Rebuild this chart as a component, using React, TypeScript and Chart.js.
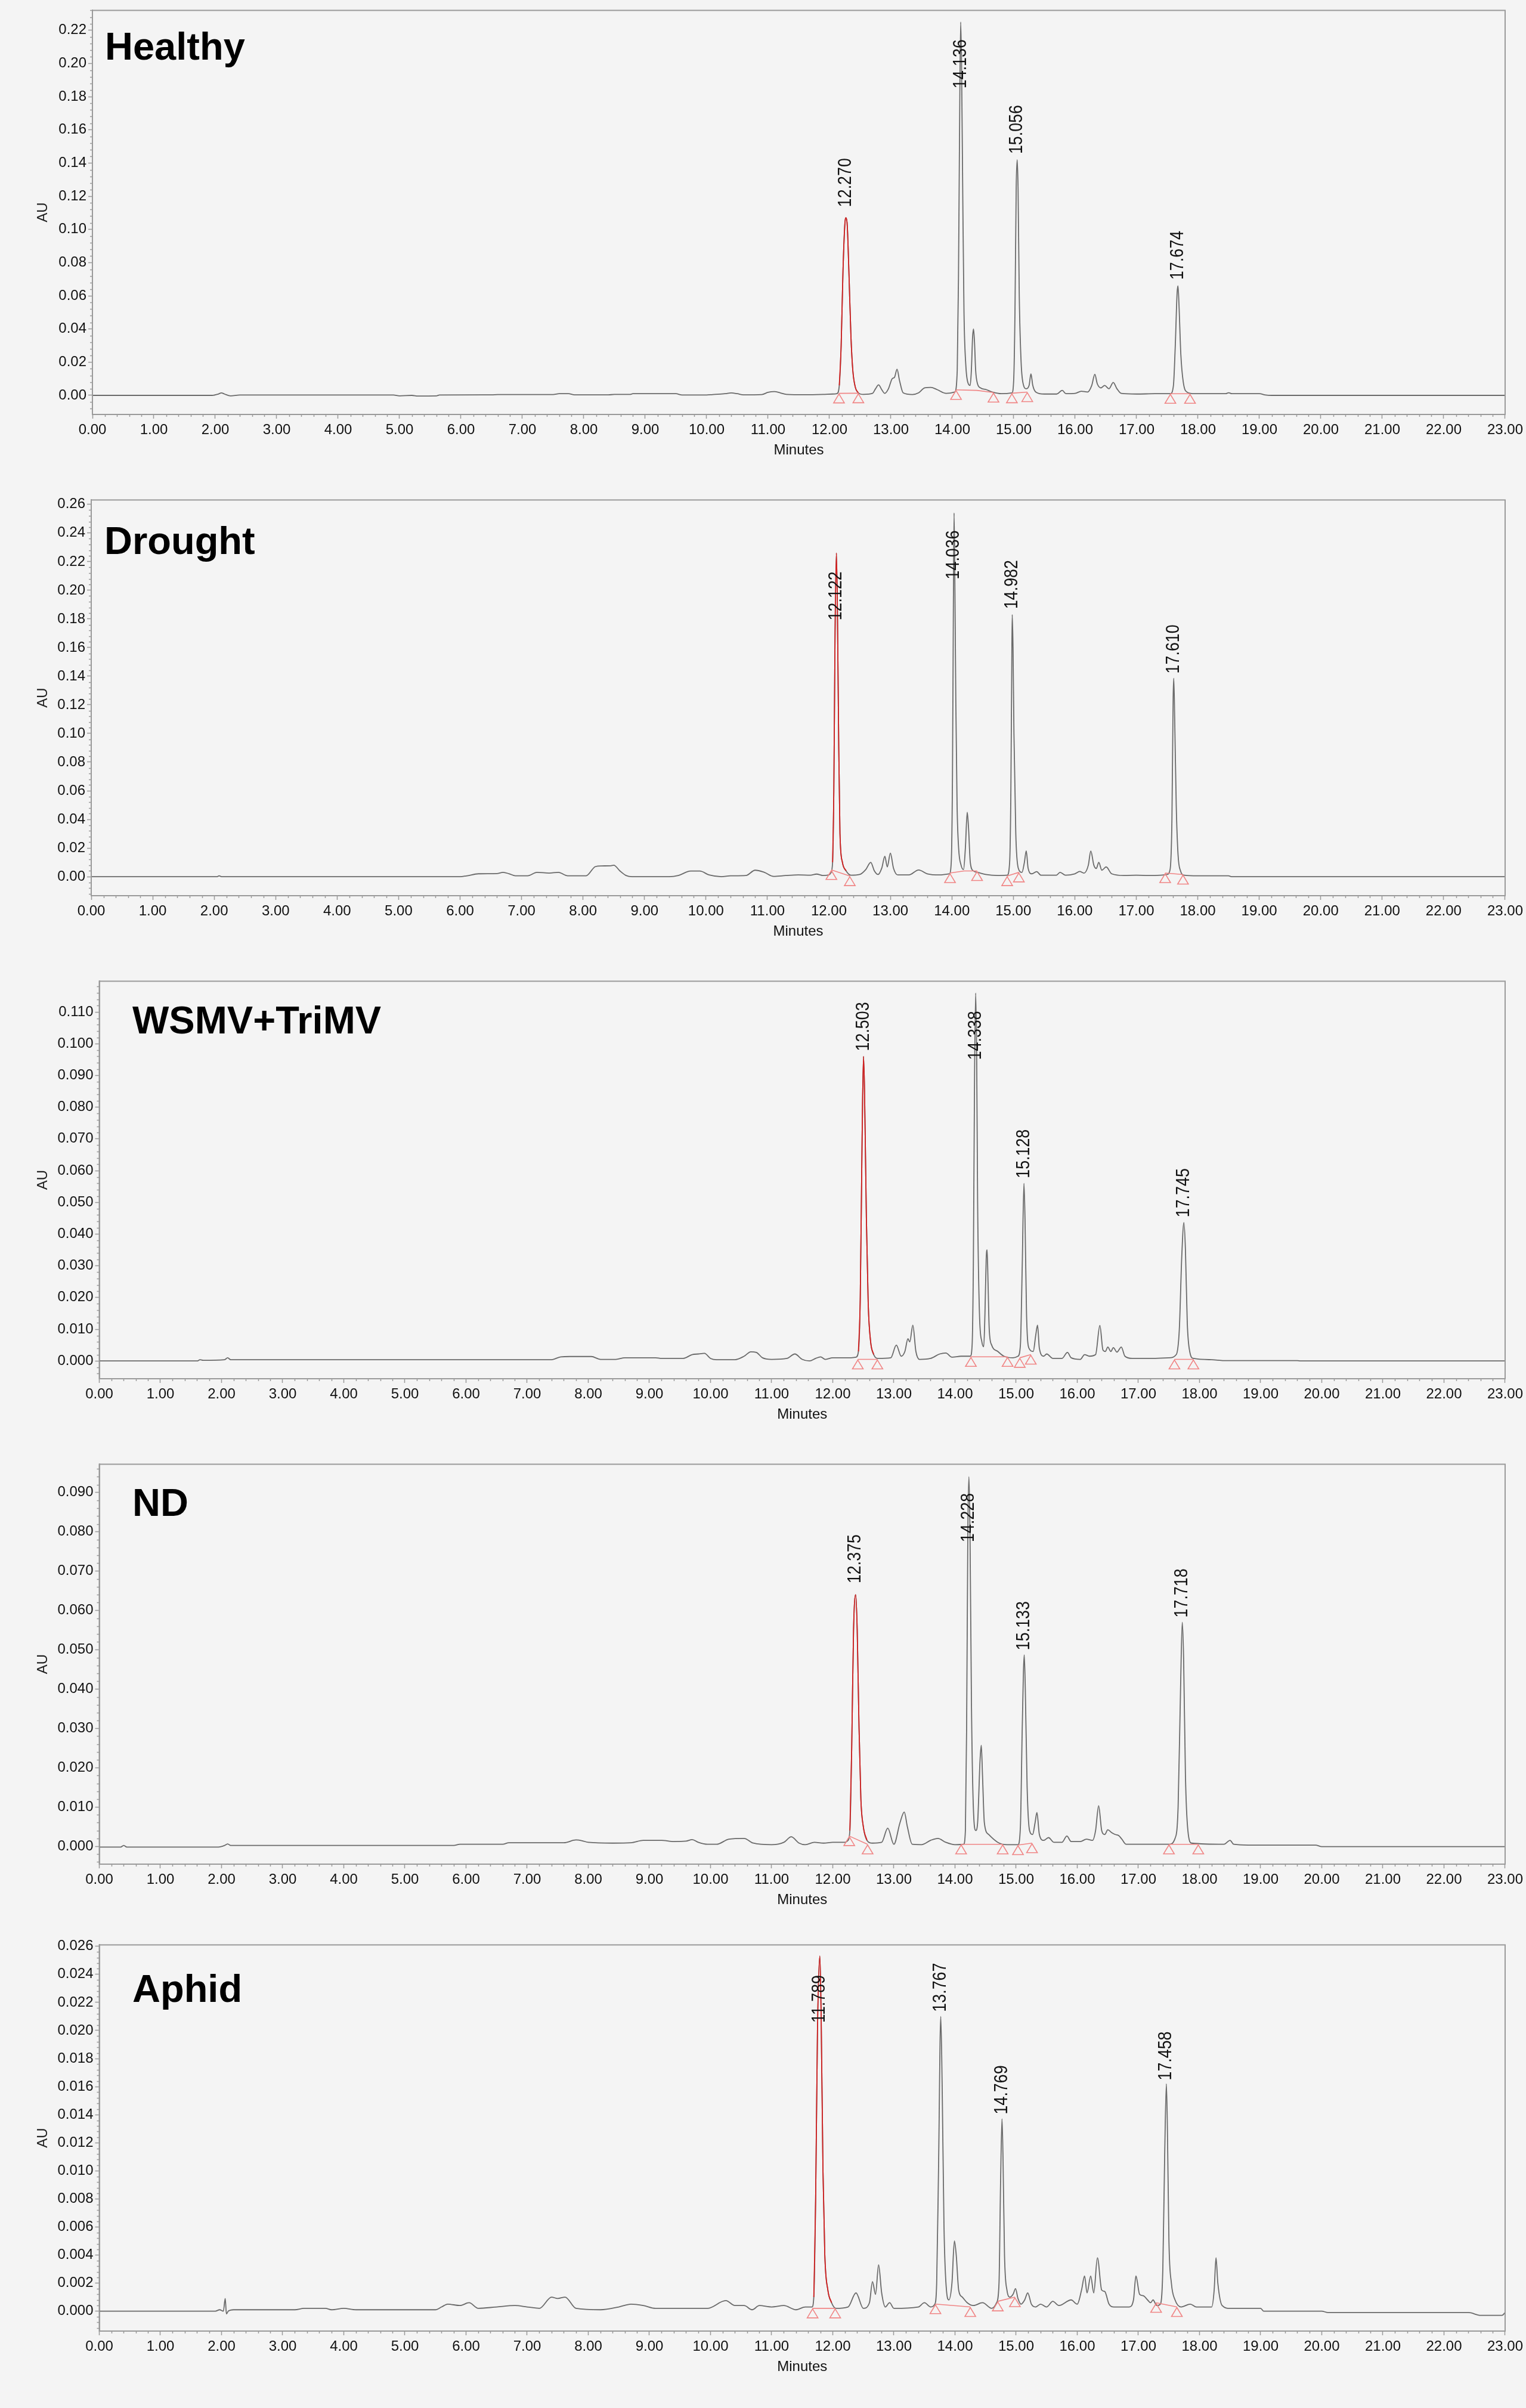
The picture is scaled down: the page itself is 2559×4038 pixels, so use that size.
import { useEffect, useRef } from 'react';
import { Chart, registerables } from 'chart.js';

Chart.register(...registerables);

const FONT = '"Liberation Sans", Arial, sans-serif';

// ---- data: [minutes, AU] ----

const healthyTrace: [number, number][] = [
  [0, 0], [1.95, 0], [2.05, 0.0008], [2.1, 0.0015], [2.15, 0.0008], [2.25, -0.0003], [2.4, 0.0002],
  [4.9, 0.0002], [5.0, -0.0003], [5.2, 0], [5.3, -0.0004], [5.6, -0.0003], [5.65, 0.0002], [6.5, 0.0003],
  [6.6, 0.0005], [7.5, 0.0005], [7.6, 0.001], [7.75, 0.001], [7.85, 0.0003], [8.4, 0.0003], [8.5, 0.0006],
  [8.75, 0.0006], [8.8, 0.001], [9.5, 0.001], [9.6, 0.0002], [10.0, 0.0002], [10.1, 0.0005], [10.3, 0.001],
  [10.4, 0.0015], [10.5, 0.001], [10.6, 0.0003], [10.9, 0.0005], [11.0, 0.0018], [11.1, 0.0023], [11.2, 0.0015],
  [11.3, 0.0006], [11.6, 0.0004], [11.9, 0.0006], [12.05, 0.0008], [12.12, 0.001], [12.16, 0.006], [12.19, 0.03],
  [12.22, 0.075], [12.25, 0.103], [12.27, 0.107], [12.29, 0.102], [12.32, 0.07], [12.35, 0.035], [12.38, 0.015],
  [12.42, 0.005], [12.47, 0.0015], [12.55, 0.0006], [12.7, 0.0012], [12.75, 0.004], [12.8, 0.0063], [12.85, 0.0035],
  [12.9, 0.0012], [12.96, 0.004], [13.02, 0.01], [13.06, 0.011], [13.1, 0.0158], [13.14, 0.009], [13.2, 0.0015],
  [13.35, 0.0005], [13.45, 0.0015], [13.55, 0.0045], [13.65, 0.0048], [13.75, 0.0035], [13.9, 0.0012],
  [14.04, 0.002], [14.08, 0.015], [14.1, 0.07], [14.12, 0.17], [14.136, 0.225], [14.15, 0.2], [14.17, 0.12],
  [14.19, 0.05], [14.22, 0.018], [14.26, 0.007], [14.29, 0.006], [14.31, 0.015], [14.33, 0.035], [14.345, 0.04],
  [14.36, 0.033], [14.38, 0.015], [14.41, 0.007], [14.46, 0.0045], [14.55, 0.0035], [14.65, 0.002], [14.8, 0.001],
  [14.97, 0.0015], [15.0, 0.01], [15.02, 0.05], [15.04, 0.125], [15.056, 0.142], [15.07, 0.125], [15.09, 0.06],
  [15.12, 0.02], [15.16, 0.006], [15.2, 0.004], [15.25, 0.006], [15.28, 0.013], [15.31, 0.006], [15.36, 0.002],
  [15.5, 0.0008], [15.7, 0.0008], [15.79, 0.003], [15.85, 0.001], [16.0, 0.0012], [16.1, 0.0025], [16.2, 0.002],
  [16.27, 0.006], [16.32, 0.0127], [16.36, 0.007], [16.42, 0.0045], [16.48, 0.006], [16.55, 0.004], [16.62, 0.0078],
  [16.68, 0.004], [16.75, 0.0012], [17.0, 0.0008], [17.3, 0.001], [17.55, 0.001], [17.6, 0.006], [17.63, 0.03],
  [17.66, 0.062], [17.674, 0.066], [17.69, 0.055], [17.72, 0.025], [17.76, 0.008], [17.82, 0.002], [17.95, 0.001],
  [18.45, 0.001], [18.5, 0.0016], [18.55, 0.001], [19.0, 0.001], [19.1, 0.0002], [19.2, 0], [23, 0],
];
const healthyPeaks = [12.270, 14.136, 15.056, 17.674];
const healthyLabelAt = [0.1135, 0.185, 0.1455, 0.0697];
const healthyBaselines: [number, number][][] = [
  [[12.155, 0.0012], [12.47, 0.0013]],
  [[14.06, 0.0033], [14.4, 0.003], [14.67, 0.0017]],
  [[14.97, 0.0013], [15.22, 0.002]],
  [[17.55, 0.001], [17.87, 0.001]],
];
const healthyTicks = [0, 0.02, 0.04, 0.06, 0.08, 0.1, 0.12, 0.14, 0.16, 0.18, 0.2, 0.22];

const droughtTrace: [number, number][] = [
  [0, 0], [2.05, 0], [2.08, 0.0006], [2.12, 0], [6.0, 0], [6.1, 0.0005], [6.3, 0.002], [6.6, 0.0022],
  [6.7, 0.003], [6.8, 0.002], [6.9, 0.0006], [7.1, 0.0006], [7.25, 0.003], [7.45, 0.0025], [7.6, 0.003],
  [7.75, 0.0006], [8.05, 0.0006], [8.2, 0.007], [8.3, 0.0075], [8.45, 0.0076], [8.5, 0.008], [8.6, 0.004],
  [8.7, 0.0008], [8.8, 0], [9.4, 0], [9.55, 0.0008], [9.75, 0.0039], [9.9, 0.0039], [10.05, 0.0012],
  [10.25, 0], [10.4, 0.0006], [10.65, 0.0008], [10.8, 0.0045], [10.95, 0.003], [11.1, 0.0002], [11.3, 0.0008],
  [11.5, 0.0012], [11.7, 0.001], [11.8, 0.0018], [11.9, 0.0008], [12.0, 0.0012], [12.03, 0.0025], [12.06, 0.01],
  [12.08, 0.06], [12.1, 0.17], [12.122, 0.226], [12.14, 0.18], [12.16, 0.09], [12.18, 0.03], [12.22, 0.01],
  [12.28, 0.004], [12.36, 0.001], [12.5, 0.0015], [12.6, 0.005], [12.68, 0.01], [12.74, 0.004], [12.8, 0.0015],
  [12.86, 0.006], [12.91, 0.0142], [12.95, 0.0068], [13.0, 0.0164], [13.05, 0.006], [13.12, 0.0012],
  [13.3, 0.0012], [13.46, 0.0047], [13.6, 0.002], [13.8, 0.0012], [13.96, 0.002], [13.99, 0.01], [14.01, 0.07],
  [14.025, 0.19], [14.036, 0.254], [14.05, 0.2], [14.065, 0.12], [14.085, 0.05], [14.11, 0.02], [14.15, 0.008],
  [14.19, 0.005], [14.22, 0.02], [14.25, 0.045], [14.27, 0.035], [14.3, 0.01], [14.35, 0.004], [14.42, 0.003],
  [14.55, 0.0015], [14.75, 0.0008], [14.9, 0.001], [14.94, 0.01], [14.96, 0.06], [14.975, 0.15], [14.982, 0.183],
  [14.995, 0.16], [15.01, 0.1], [15.04, 0.03], [15.08, 0.006], [15.14, 0.003], [15.18, 0.01], [15.21, 0.018],
  [15.24, 0.006], [15.3, 0.002], [15.38, 0.0035], [15.45, 0.001], [15.7, 0.001], [15.76, 0.003], [15.85, 0.001],
  [16.0, 0.002], [16.08, 0.0036], [16.15, 0.0025], [16.22, 0.008], [16.26, 0.0179], [16.31, 0.008], [16.35, 0.0057],
  [16.39, 0.01], [16.44, 0.0045], [16.51, 0.0068], [16.6, 0.002], [16.8, 0.0008], [17.0, 0.001], [17.2, 0.0008],
  [17.4, 0.001], [17.5, 0.0015], [17.55, 0.005], [17.58, 0.04], [17.6, 0.125], [17.61, 0.1386], [17.625, 0.11],
  [17.65, 0.05], [17.68, 0.015], [17.72, 0.004], [17.78, 0.001], [18.0, 0.0006], [18.5, 0.0006], [18.55, 0],
  [23, 0],
];
const droughtPeaks = [12.122, 14.036, 14.982, 17.610];
const droughtLabelAt = [0.179, 0.2077, 0.187, 0.1419];
const droughtBaselines: [number, number][][] = [
  [[12.04, 0.0047], [12.34, 0.0004]],
  [[13.97, 0.0025], [14.2, 0.004], [14.41, 0.004]],
  [[14.9, 0.0004], [15.09, 0.003]],
  [[17.47, 0.0025], [17.76, 0.0015]],
];
const droughtTicks = [0, 0.02, 0.04, 0.06, 0.08, 0.1, 0.12, 0.14, 0.16, 0.18, 0.2, 0.22, 0.24, 0.26];

const virusTrace: [number, number][] = [
  [0, 0], [1.6, 0], [1.65, 0.0004], [1.7, 0.0002], [2.05, 0.0004], [2.1, 0.001], [2.15, 0.0004], [7.4, 0.0004],
  [7.55, 0.0013], [7.7, 0.0014], [8.05, 0.0014], [8.2, 0.0005], [8.45, 0.0005], [8.6, 0.001], [9.1, 0.001],
  [9.2, 0.0008], [9.55, 0.0008], [9.7, 0.002], [9.8, 0.0022], [9.9, 0.0024], [10.0, 0.0008], [10.1, 0.0004],
  [10.4, 0.0004], [10.55, 0.0015], [10.66, 0.0029], [10.75, 0.0027], [10.85, 0.001], [11.0, 0.0005],
  [11.25, 0.0008], [11.38, 0.0022], [11.5, 0.0005], [11.62, 0], [11.72, 0.0008], [11.8, 0.0013], [11.88, 0.0005],
  [12.0, 0.001], [12.3, 0.001], [12.38, 0.0012], [12.42, 0.003], [12.45, 0.02], [12.48, 0.07], [12.503, 0.096],
  [12.52, 0.085], [12.55, 0.045], [12.58, 0.018], [12.62, 0.006], [12.67, 0.002], [12.75, 0.0008],
  [12.95, 0.001], [13.04, 0.005], [13.12, 0.0015], [13.18, 0.003], [13.23, 0.007], [13.26, 0.006],
  [13.31, 0.0113], [13.36, 0.003], [13.42, 0.0005], [13.6, 0.0008], [13.75, 0.0022], [13.85, 0.0025],
  [13.95, 0.0012], [14.1, 0.0015], [14.25, 0.0015], [14.28, 0.005], [14.3, 0.03], [14.32, 0.09], [14.338, 0.116],
  [14.355, 0.095], [14.37, 0.05], [14.4, 0.015], [14.44, 0.006], [14.47, 0.0045], [14.49, 0.015], [14.51, 0.032],
  [14.525, 0.035], [14.54, 0.025], [14.56, 0.01], [14.6, 0.005], [14.7, 0.003], [14.8, 0.0015], [14.95, 0.001],
  [15.03, 0.0015], [15.07, 0.005], [15.1, 0.03], [15.128, 0.056], [15.145, 0.045], [15.17, 0.015], [15.21, 0.004],
  [15.28, 0.003], [15.32, 0.008], [15.35, 0.0113], [15.38, 0.004], [15.45, 0.0015], [15.5, 0.0022], [15.6, 0.0008],
  [15.75, 0.0008], [15.84, 0.0027], [15.9, 0.001], [16.05, 0.0005], [16.12, 0.002], [16.2, 0.0015], [16.3, 0.002],
  [16.37, 0.0112], [16.42, 0.0035], [16.46, 0.003], [16.5, 0.0044], [16.55, 0.003], [16.59, 0.0042],
  [16.65, 0.0028], [16.72, 0.0044], [16.78, 0.0015], [16.9, 0.0008], [17.2, 0.0008], [17.5, 0.001], [17.62, 0.002],
  [17.67, 0.01], [17.71, 0.033], [17.745, 0.0436], [17.77, 0.035], [17.8, 0.012], [17.84, 0.003], [17.9, 0.0008],
  [18.2, 0.0004], [18.4, 0.0001], [19.6, 0.0001], [19.65, 0], [23, 0],
];
const virusPeaks = [12.503, 14.338, 15.128, 17.745];
const virusLabelAt = [0.0977, 0.0949, 0.0576, 0.0453];
const virusBaselines: [number, number][][] = [
  [[12.41, 0.0005], [12.73, 0.0005]],
  [[14.26, 0.0013], [14.86, 0.0013]],
  [[15.06, 0.001], [15.24, 0.002]],
  [[17.59, 0.0005], [17.9, 0.0005]],
];
const virusTicks = [0, 0.01, 0.02, 0.03, 0.04, 0.05, 0.06, 0.07, 0.08, 0.09, 0.1, 0.11];

const ndTrace: [number, number][] = [
  [0, -0.0002], [0.35, -0.0002], [0.4, 0.0002], [0.45, -0.0002], [1.95, -0.0002], [2.05, 0.0002], [2.1, 0.0006],
  [2.15, 0.0002], [5.8, 0.0002], [5.9, 0.0005], [6.6, 0.0005], [6.7, 0.0009], [7.6, 0.0009], [7.8, 0.0016],
  [7.9, 0.0014], [8.0, 0.001], [8.4, 0.0008], [8.7, 0.0009], [8.9, 0.0015], [9.2, 0.0015], [9.4, 0.0012],
  [9.6, 0.0013], [9.7, 0.0017], [9.8, 0.001], [9.95, 0.0005], [10.1, 0.0005], [10.3, 0.0018], [10.55, 0.002],
  [10.7, 0.0008], [11.0, 0.0004], [11.2, 0.001], [11.32, 0.0024], [11.45, 0.0008], [11.55, 0.0004], [11.7, 0.001],
  [11.85, 0.0008], [12.0, 0.001], [12.2, 0.001], [12.25, 0.0015], [12.28, 0.004], [12.31, 0.025], [12.34, 0.055],
  [12.375, 0.064], [12.4, 0.055], [12.43, 0.03], [12.46, 0.012], [12.5, 0.005], [12.56, 0.0015], [12.65, 0.0008],
  [12.8, 0.001], [12.9, 0.0046], [13.0, 0.0005], [13.1, 0.006], [13.17, 0.0087], [13.22, 0.005], [13.3, 0.0005],
  [13.45, 0.0004], [13.6, 0.0015], [13.72, 0.002], [13.85, 0.001], [14.0, 0.0004], [14.14, 0.0005], [14.17, 0.004],
  [14.19, 0.03], [14.21, 0.08], [14.228, 0.094], [14.245, 0.08], [14.27, 0.035], [14.3, 0.01], [14.34, 0.004],
  [14.37, 0.006], [14.41, 0.022], [14.43, 0.0257], [14.45, 0.018], [14.48, 0.006], [14.55, 0.003], [14.7, 0.001],
  [14.85, 0.0004], [15.03, 0.0004], [15.07, 0.005], [15.1, 0.03], [15.133, 0.0487], [15.15, 0.04], [15.18, 0.015],
  [15.22, 0.004], [15.27, 0.003], [15.31, 0.006], [15.34, 0.0086], [15.38, 0.003], [15.45, 0.0015], [15.53, 0.0022],
  [15.62, 0.001], [15.75, 0.001], [15.83, 0.0026], [15.9, 0.0012], [16.05, 0.0012], [16.15, 0.0018],
  [16.25, 0.0015], [16.3, 0.004], [16.35, 0.0103], [16.4, 0.004], [16.45, 0.003], [16.5, 0.0042], [16.56, 0.0035],
  [16.62, 0.003], [16.68, 0.0027], [16.73, 0.0018], [16.8, 0.0005], [17.2, 0.0005], [17.5, 0.0005], [17.6, 0.002],
  [17.65, 0.01], [17.69, 0.04], [17.718, 0.057], [17.74, 0.048], [17.77, 0.018], [17.81, 0.004], [17.87, 0.0008],
  [18.4, 0.0005], [18.5, 0.0015], [18.56, 0.0005], [18.8, 0.0003], [19.9, 0.0003], [20.0, -0.0001], [23, -0.0001],
];
const ndPeaks = [12.375, 14.228, 15.133, 17.718];
const ndLabelAt = [0.0669, 0.0774, 0.0499, 0.0582];
const ndBaselines: [number, number][][] = [
  [[12.27, 0.0026], [12.57, 0.0005]],
  [[14.1, 0.0005], [14.78, 0.0005]],
  [[15.03, 0.0003], [15.26, 0.0008]],
  [[17.5, 0.0005], [17.98, 0.0005]],
];
const ndTicks = [0, 0.01, 0.02, 0.03, 0.04, 0.05, 0.06, 0.07, 0.08, 0.09];

const aphidTrace: [number, number][] = [
  [0, 0], [1.9, 0], [1.97, 0.0001], [2.03, 0], [2.06, 0.0009], [2.08, -0.0002], [2.11, 0], [2.2, 0.0001],
  [3.2, 0.0001], [3.35, 0.0002], [3.7, 0.0002], [3.8, 0.0001], [4.0, 0.0002], [4.2, 0.0001], [5.5, 0.0001],
  [5.6, 0.0003], [5.7, 0.0005], [5.9, 0.0004], [6.05, 0.0006], [6.2, 0.0002], [6.5, 0.0003], [6.8, 0.0004],
  [7.0, 0.0003], [7.2, 0.0002], [7.4, 0.001], [7.5, 0.0009], [7.62, 0.001], [7.8, 0.0002], [8.2, 0.0001],
  [8.5, 0.0003], [8.7, 0.0005], [8.9, 0.0004], [9.1, 0.0002], [9.95, 0.0002], [10.25, 0.00075], [10.4, 0.0004],
  [10.55, 0.0004], [10.68, 0.0001], [10.8, 0.0004], [11.0, 0.0003], [11.2, 0.0004], [11.4, 0.0001],
  [11.55, 0.0003], [11.66, 0.0003], [11.69, 0.001], [11.72, 0.008], [11.75, 0.02], [11.789, 0.0253],
  [11.81, 0.021], [11.84, 0.01], [11.87, 0.004], [11.92, 0.0015], [11.98, 0.0006], [12.05, 0.0002],
  [12.25, 0.0003], [12.38, 0.0013], [12.5, 0.0002], [12.6, 0.0006], [12.65, 0.0021], [12.7, 0.0012],
  [12.75, 0.0033], [12.8, 0.0013], [12.86, 0.0003], [12.93, 0.0006], [13.0, 0.0002], [13.4, 0.0003],
  [13.5, 0.0006], [13.6, 0.0003], [13.67, 0.0005], [13.7, 0.002], [13.73, 0.01], [13.767, 0.021], [13.79, 0.016],
  [13.82, 0.006], [13.86, 0.0015], [13.9, 0.0008], [13.95, 0.002], [13.99, 0.005], [14.02, 0.004], [14.06, 0.0015],
  [14.12, 0.001], [14.2, 0.0006], [14.3, 0.0004], [14.45, 0.0006], [14.6, 0.0002], [14.68, 0.0006], [14.72, 0.002],
  [14.745, 0.009], [14.769, 0.0137], [14.785, 0.011], [14.81, 0.004], [14.85, 0.0015], [14.9, 0.001],
  [14.95, 0.0012], [14.99, 0.0016], [15.03, 0.0009], [15.08, 0.0005], [15.14, 0.0008], [15.19, 0.0013],
  [15.25, 0.0005], [15.32, 0.0003], [15.4, 0.0005], [15.5, 0.0003], [15.6, 0.0007], [15.7, 0.0004], [15.9, 0.0008],
  [16.0, 0.0005], [16.07, 0.0015], [16.12, 0.0025], [16.16, 0.0013], [16.22, 0.0025], [16.27, 0.0013],
  [16.33, 0.0038], [16.4, 0.0015], [16.45, 0.0014], [16.52, 0.0005], [16.6, 0.0003], [16.85, 0.0003],
  [16.92, 0.0008], [16.96, 0.0025], [17.02, 0.0012], [17.08, 0.0011], [17.15, 0.0008], [17.2, 0.0006],
  [17.24, 0.0008], [17.3, 0.0004], [17.36, 0.0005], [17.4, 0.003], [17.43, 0.011], [17.458, 0.0162],
  [17.475, 0.013], [17.5, 0.005], [17.54, 0.002], [17.6, 0.0008], [17.7, 0.0003], [17.85, 0.0005], [17.95, 0.0003],
  [18.2, 0.0003], [18.24, 0.0015], [18.27, 0.0038], [18.3, 0.002], [18.37, 0.0004], [18.5, 0.0002], [19.0, 0.0002],
  [19.05, 0], [20.0, 0], [20.1, -0.0001], [22.4, -0.0001], [22.6, -0.0003], [22.95, -0.0003], [23, -0.0001],
];
const aphidPeaks = [11.789, 13.767, 14.769, 17.458];
const aphidLabelAt = [0.02055, 0.02133, 0.01403, 0.01645];
const aphidBaselines: [number, number][][] = [
  [[11.67, 0.0002], [12.04, 0.0002]],
  [[13.68, 0.0005], [14.25, 0.0003]],
  [[14.7, 0.0007], [14.98, 0.001]],
  [[17.29, 0.0006], [17.63, 0.0003]],
];
const aphidTicks = [0, 0.002, 0.004, 0.006, 0.008, 0.01, 0.012, 0.014, 0.016, 0.018, 0.02, 0.022, 0.024, 0.026];

const minuteTicks = [0, 1, 2, 3, 4, 5, 6, 7, 8, 9, 10, 11, 12, 13, 14, 15, 16, 17, 18, 19, 20, 21, 22, 23];

// ---- layout of each panel (pixels) ----
const panels = [
  { title: 'Healthy', trace: healthyTrace, peaks: healthyPeaks, labelAt: healthyLabelAt, baselines: healthyBaselines,
    ticks: healthyTicks, dec: 2, minor: 0.004, yMin: -0.0115, yMax: 0.232,
    height: 821, left: 155, axisY: 695, titleX: 176, titleY: 99.5 },
  { title: 'Drought', trace: droughtTrace, peaks: droughtPeaks, labelAt: droughtLabelAt, baselines: droughtBaselines,
    ticks: droughtTicks, dec: 2, minor: 0.004, yMin: -0.0133, yMax: 0.2631,
    height: 807, left: 153, axisY: 681, titleX: 175, titleY: 107.5 },
  { title: 'WSMV+TriMV', trace: virusTrace, peaks: virusPeaks, labelAt: virusLabelAt, baselines: virusBaselines,
    ticks: virusTicks, dec: 3, minor: 0.002, yMin: -0.0056, yMax: 0.1197,
    height: 810, left: 166.5, axisY: 684, titleX: 222, titleY: 105 },
  { title: 'ND', trace: ndTrace, peaks: ndPeaks, labelAt: ndLabelAt, baselines: ndBaselines,
    ticks: ndTicks, dec: 3, minor: 0.002, yMin: -0.00455, yMax: 0.0972,
    height: 806, left: 166.5, axisY: 688, titleX: 222, titleY: 104 },
  { title: 'Aphid', trace: aphidTrace, peaks: aphidPeaks, labelAt: aphidLabelAt, baselines: aphidBaselines,
    ticks: aphidTicks, dec: 3, minor: 0.0004, yMin: -0.00142, yMax: 0.0261,
    height: 794, left: 166.5, axisY: 665, titleX: 222, titleY: 112.5 },
];

const WIDTH = 2559;
const PLOT_RIGHT = 2530;
const TOP = 17;
const X_AXIS_H = 110;
const AXIS_GRAY = '#9a9a9a';
const TRACE = '#6a6a6a';
const PEAK_RED = '#d42020';
const PINK = '#f08585';

type Panel = typeof panels[number];

const Chromatogram = ({ cfg }: { cfg: Panel }) => {
  const canvasRef = useRef<HTMLCanvasElement | null>(null);
  const chartRef = useRef<Chart | null>(null);

  useEffect(() => {
    const ctx = canvasRef.current?.getContext('2d');
    if (!ctx) return;

    const points = cfg.trace.map(([x, y]) => ({ x, y }));
    const first = cfg.baselines[0];
    const redStart = first[0][0];
    const redEnd = first[first.length - 1][0];
    const redPoints = points.filter((p) => p.x >= redStart && p.x <= redEnd);

    const decor = {
      id: 'decor',
      afterDraw(chart: any) {
        const c = chart.ctx as CanvasRenderingContext2D;
        const { left, right, top, bottom } = chart.chartArea;
        const xs = chart.scales.x;
        const ys = chart.scales.y;
        c.save();

        // frame
        c.strokeStyle = AXIS_GRAY;
        c.lineWidth = 2;
        c.strokeRect(left, top, right - left, bottom - top);

        // minor ticks
        c.lineWidth = 1.5;
        c.beginPath();
        for (let i = 0; i <= 115; i++) {
          if (i % 5 === 0) continue;
          const px = Math.round(xs.getPixelForValue(i / 5)) + 0.5;
          c.moveTo(px, bottom);
          c.lineTo(px, bottom + 4);
        }
        const kMin = Math.ceil(cfg.yMin / cfg.minor - 1e-6);
        const kMax = Math.floor(cfg.yMax / cfg.minor + 1e-6);
        for (let k = kMin; k <= kMax; k++) {
          if (k % 5 === 0) continue;
          const py = Math.round(ys.getPixelForValue(k * cfg.minor)) + 0.5;
          c.moveTo(left, py);
          c.lineTo(left - 4, py);
        }
        c.stroke();

        // integration baselines and event triangles
        c.save();
        c.beginPath();
        c.rect(left, top, right - left, bottom - top);
        c.clip();
        c.strokeStyle = PINK;
        c.lineWidth = 1.6;
        for (const seg of cfg.baselines) {
          c.beginPath();
          seg.forEach(([x, y], i) => {
            const px = xs.getPixelForValue(x);
            const py = ys.getPixelForValue(y);
            if (i === 0) c.moveTo(px, py);
            else c.lineTo(px, py);
          });
          c.stroke();
          for (const [x, y] of [seg[0], seg[seg.length - 1]]) {
            const px = xs.getPixelForValue(x);
            const py = ys.getPixelForValue(y) + 1;
            c.beginPath();
            c.moveTo(px, py);
            c.lineTo(px + 9, py + 15);
            c.lineTo(px - 9, py + 15);
            c.closePath();
            c.stroke();
          }
        }
        c.restore();

        // peak retention-time labels (narrow, rotated)
        c.fillStyle = '#111';
        c.font = `31px ${FONT}`;
        c.textAlign = 'left';
        c.textBaseline = 'middle';
        cfg.peaks.forEach((t, i) => {
          c.save();
          c.translate(xs.getPixelForValue(t), ys.getPixelForValue(cfg.labelAt[i]));
          c.rotate(-Math.PI / 2);
          c.scale(0.865, 1);
          c.fillText(t.toFixed(3), 0, 0);
          c.restore();
        });

        // panel title
        c.fillStyle = '#000';
        c.font = `bold 65px ${FONT}`;
        c.textBaseline = 'alphabetic';
        c.fillText(cfg.title, cfg.titleX, cfg.titleY);
        c.restore();
      },
    };

    chartRef.current = new Chart(ctx, {
      type: 'line',
      data: {
        datasets: [
          {
            data: redPoints,
            borderColor: PEAK_RED,
            borderWidth: 1.8,
            pointRadius: 0,
            cubicInterpolationMode: 'monotone',
            order: 0,
          },
          {
            data: points,
            borderColor: TRACE,
            borderWidth: 1.8,
            pointRadius: 0,
            cubicInterpolationMode: 'monotone',
            order: 1,
          },
        ],
      },
      options: {
        animation: false,
        responsive: true,
        maintainAspectRatio: false,
        devicePixelRatio: 1,
        events: [],
        layout: {
          padding: {
            top: TOP,
            left: 0,
            right: WIDTH - PLOT_RIGHT,
            bottom: cfg.height - cfg.axisY - X_AXIS_H,
          },
        },
        plugins: { legend: { display: false }, tooltip: { enabled: false } },
        scales: {
          x: {
            type: 'linear',
            min: 0,
            max: 23,
            afterBuildTicks: (s: any) => {
              s.ticks = minuteTicks.map((v) => ({ value: v }));
            },
            afterFit: (s: any) => {
              s.height = X_AXIS_H;
            },
            grid: { drawOnChartArea: false, drawTicks: true, tickLength: 7, tickColor: AXIS_GRAY, tickWidth: 1.5 },
            border: { color: AXIS_GRAY, width: 2 },
            ticks: {
              autoSkip: false,
              maxRotation: 0,
              minRotation: 0,
              padding: 5,
              color: '#111',
              font: { family: FONT, size: 24 },
              callback: (v: any) => Number(v).toFixed(2),
            },
            title: {
              display: true,
              text: 'Minutes',
              color: '#111',
              font: { family: FONT, size: 24 },
              padding: { top: 0, bottom: 35 },
            },
          },
          y: {
            type: 'linear',
            min: cfg.yMin,
            max: cfg.yMax,
            afterBuildTicks: (s: any) => {
              s.ticks = cfg.ticks.map((v) => ({ value: v }));
            },
            afterFit: (s: any) => {
              s.width = cfg.left;
            },
            grid: { drawOnChartArea: false, drawTicks: true, tickLength: 7, tickColor: AXIS_GRAY, tickWidth: 1.5 },
            border: { color: AXIS_GRAY, width: 2 },
            ticks: {
              autoSkip: false,
              padding: 3,
              color: '#111',
              font: { family: FONT, size: 24 },
              callback: (v: any) => Number(v).toFixed(cfg.dec),
            },
            title: {
              display: true,
              text: 'AU',
              color: '#222',
              font: { family: FONT, size: 24 },
              padding: { top: 57.6, bottom: 0 },
            },
          },
        },
      },
      plugins: [decor],
    } as any);

    return () => chartRef.current?.destroy();
  }, [cfg]);

  return (
    <div style={{ position: 'relative', width: WIDTH, height: cfg.height, background: '#f4f4f4' }}>
      <canvas ref={canvasRef} />
    </div>
  );
};

const App = () => {
  return (
    <div style={{ width: WIDTH, background: '#f4f4f4' }}>
      <style>{'body{margin:0;background:#f4f4f4;}'}</style>
      {panels.map((p) => (
        <Chromatogram key={p.title} cfg={p} />
      ))}
    </div>
  );
};

export default App;
